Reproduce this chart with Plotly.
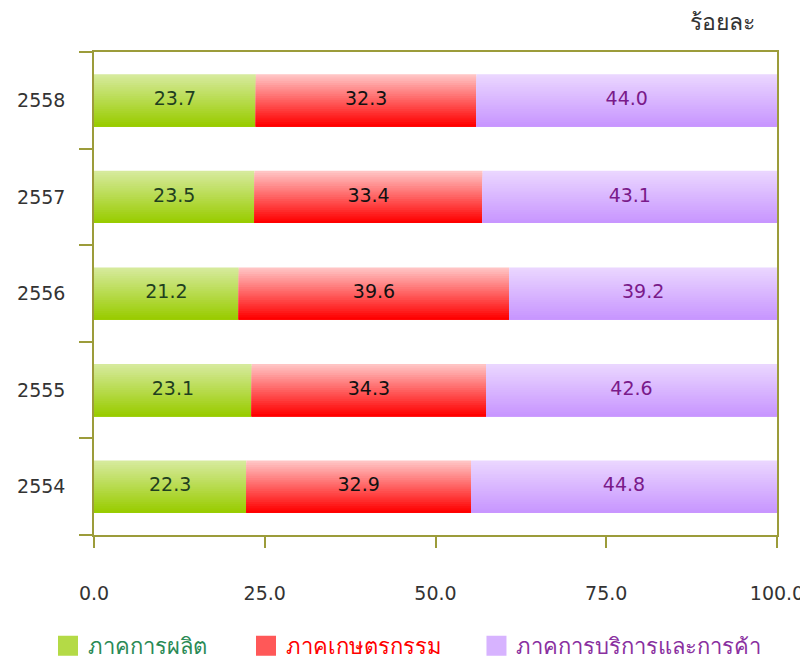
import plotly.graph_objects as go

years = ['2554', '2555', '2556', '2557', '2558']
manufacturing = [22.3, 23.1, 21.2, 23.5, 23.7]
agriculture = [32.9, 34.3, 39.6, 33.4, 32.3]
services = [44.8, 42.6, 39.2, 43.1, 44.0]

series_names = ['ภาคการผลิต', 'ภาคเกษตรกรรม', 'ภาคการบริการและการค้า']
# (top colour, bottom colour) of the vertical gradient
gradients = [((214, 234, 156), (153, 204, 0)),
             ((255, 196, 196), (255, 0, 0)),
             ((234, 214, 255), (200, 150, 255))]
label_colors = ['#1f3f1f', '#111111', '#7a1a8a']
legend_colors = ['#2a8a55', '#ff0000', '#8a30a0']

FONT = 'Tahoma, DejaVu Sans, sans-serif'
AXIS = '#9c9c3a'
BAR_W = 0.54
N_STRIPS = 24
legend_ids = ['legend', 'legend2', 'legend3']
legend_x = [0.05, 0.2975, 0.5856]


def mix(c0, c1, t):
    return 'rgb({},{},{})'.format(*[round(a + (b - a) * t) for a, b in zip(c0, c1)])


fig = go.Figure()
base = [0.0] * len(years)
for values, (top, bottom), lc in zip(
        [manufacturing, agriculture, services], gradients, label_colors):
    strip = BAR_W / N_STRIPS
    # every strip starts at the bottom edge; the tallest (lightest) is drawn
    # first and shorter, darker ones on top, so no seams show
    for k in range(N_STRIPS, 0, -1):
        t = 1 - (k - 1) / (N_STRIPS - 1)
        fig.add_trace(go.Bar(
            y=years, x=values, base=base, orientation='h',
            width=k * strip, offset=-BAR_W / 2,
            marker=dict(color=mix(top, bottom, t), line=dict(width=0)),
            showlegend=False, hoverinfo='skip'))
    mids = [b + v / 2 for b, v in zip(base, values)]
    fig.add_trace(go.Scatter(
        y=years, x=mids, mode='text', text=['%.1f' % v for v in values],
        textfont=dict(size=19, color=lc, family=FONT),
        showlegend=False, hoverinfo='skip'))
    base = [b + v for b, v in zip(base, values)]

# one small legend per series so each entry can sit where the original has it
legends = {}
for name, (top, bottom), lc, lid, lx in zip(
        series_names, gradients, legend_colors, legend_ids, legend_x):
    col = mix(top, bottom, 0.55)
    fig.add_trace(go.Scatter(
        x=[None], y=[None], mode='markers', name=name, legend=lid,
        marker=dict(symbol='square', size=22, color=col,
                    line=dict(width=4, color=col))))
    legends[lid] = dict(orientation='h', xref='container', yref='container',
                        x=lx, xanchor='left', y=0.0245, yanchor='middle',
                        itemsizing='trace', bgcolor='rgba(0,0,0,0)',
                        font=dict(size=22, family=FONT, color=lc))

# the page body has an 8px margin, so the figure is sized to fit inside it
fig.update_layout(
    width=800, height=654,
    barmode='overlay',
    plot_bgcolor='white', paper_bgcolor='white',
    margin=dict(l=86, r=31, t=44, b=127),
    font=dict(family=FONT, size=19, color='#333333'),
    annotations=[dict(text='ร้อยละ', xref='paper', yref='paper',
                      x=0.971, y=1.0, xanchor='right', yanchor='bottom', yshift=15,
                      showarrow=False, font=dict(size=23, color='#333333', family=FONT))],
    **legends,
)

fig.update_xaxes(range=[0, 100], tickvals=[0, 25, 50, 75, 100], tickformat='.1f',
                 showgrid=False, zeroline=False, showline=True, mirror=True,
                 linecolor=AXIS, linewidth=1.5, ticks='outside', ticklen=11,
                 tickcolor=AXIS, tickwidth=1.5, ticklabelstandoff=29,
                 automargin=False, tickfont=dict(size=19, color='#333333'))
fig.update_yaxes(type='category', categoryorder='array', categoryarray=years,
                 showgrid=False, zeroline=False, showline=True, mirror=True,
                 linecolor=AXIS, linewidth=1.5, ticks='outside', tickson='boundaries',
                 ticklen=13, tickcolor=AXIS, tickwidth=1.5, ticklabelstandoff=23,
                 automargin=False, tickfont=dict(size=19, color='#333333'))

fig.write_html('out.html')
